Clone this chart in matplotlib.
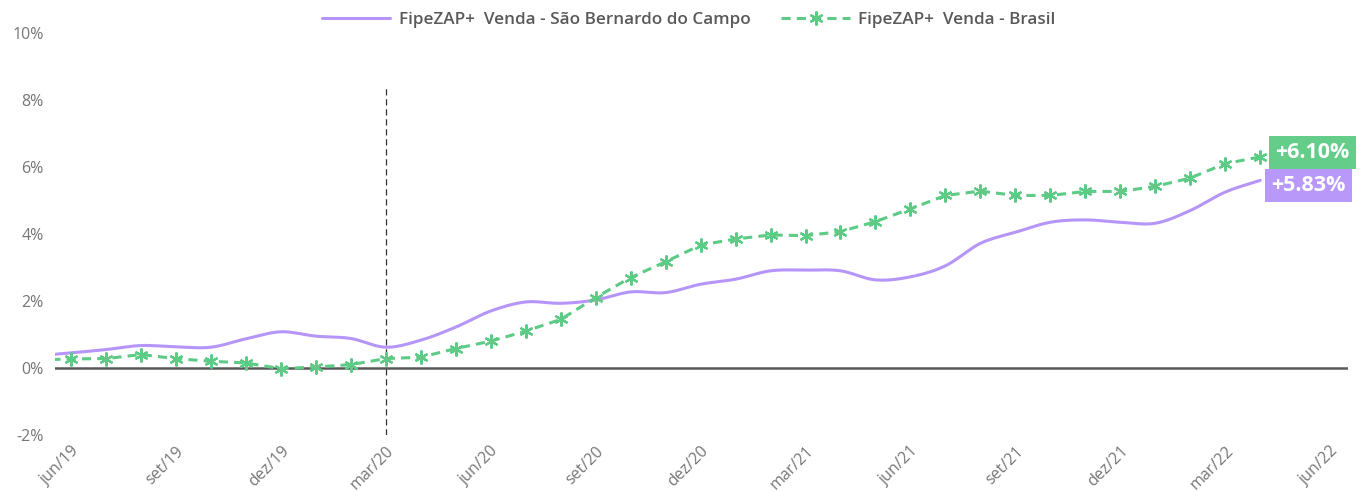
import matplotlib.pyplot as plt
import numpy as np

# meses de mai/19 a abr/22 (mai/19 fica fora do eixo, só prolonga a linha)
months = ["mai/19", "jun/19", "jul/19", "ago/19", "set/19", "out/19", "nov/19", "dez/19",
          "jan/20", "fev/20", "mar/20", "abr/20", "mai/20", "jun/20", "jul/20", "ago/20",
          "set/20", "out/20", "nov/20", "dez/20", "jan/21", "fev/21", "mar/21", "abr/21",
          "mai/21", "jun/21", "jul/21", "ago/21", "set/21", "out/21", "nov/21", "dez/21",
          "jan/22", "fev/22", "mar/22", "abr/22"]

sbc = [0.36, 0.45, 0.55, 0.67, 0.63, 0.62, 0.87, 1.08,
       0.95, 0.88, 0.62, 0.83, 1.22, 1.70, 1.97, 1.93,
       2.03, 2.27, 2.25, 2.50, 2.65, 2.90, 2.92, 2.90,
       2.63, 2.72, 3.05, 3.72, 4.05, 4.35, 4.42, 4.35,
       4.32, 4.70, 5.25, 5.60]

brasil = [0.24, 0.27, 0.28, 0.40, 0.28, 0.20, 0.15, -0.02,
          0.03, 0.10, 0.28, 0.32, 0.58, 0.80, 1.10, 1.45,
          2.10, 2.70, 3.17, 3.67, 3.85, 3.97, 3.95, 4.07,
          4.37, 4.75, 5.15, 5.28, 5.15, 5.15, 5.27, 5.27,
          5.42, 5.67, 6.10, 6.30]

tick_labels = ["jun/19", "set/19", "dez/19", "mar/20", "jun/20", "set/20", "dez/20",
               "mar/21", "jun/21", "set/21", "dez/21", "mar/22", "jun/22"]

label_sbc = "+5.83%"
label_brasil = "+6.10%"

PURPLE = "#b596f8"
GREEN = "#5dcb85"
GRAY = "#595959"
TICK_GRAY = "#767676"


def catmull_rom(x, y, n=20):
    # curva suave passando pelos pontos
    x = np.asarray(x, float)
    y = np.asarray(y, float)
    px = np.concatenate([[2 * x[0] - x[1]], x, [2 * x[-1] - x[-2]]])
    py = np.concatenate([[2 * y[0] - y[1]], y, [2 * y[-1] - y[-2]]])
    xs, ys = [], []
    t = np.linspace(0, 1, n, endpoint=False)
    for i in range(1, len(px) - 2):
        for arr, out in ((px, xs), (py, ys)):
            p0, p1, p2, p3 = arr[i - 1], arr[i], arr[i + 1], arr[i + 2]
            out.extend(0.5 * (2 * p1 + (-p0 + p2) * t + (2 * p0 - 5 * p1 + 4 * p2 - p3) * t ** 2
                              + (-p0 + 3 * p1 - 3 * p2 + p3) * t ** 3))
    xs.append(x[-1])
    ys.append(y[-1])
    return np.array(xs), np.array(ys)


plt.rcParams['font.family'] = ['Open Sans', 'DejaVu Sans']

x = np.arange(len(months)) - 1  # jun/19 = 0
fig = plt.figure(figsize=(13.64, 4.92), dpi=100)
ax = fig.add_axes([0.0403, 0.1159, 0.9477, 0.8171])

sx, sy = catmull_rom(x, sbc)
ax.plot(sx, sy, color=PURPLE, lw=2.2, solid_capstyle='round',
        label="FipeZAP+  Venda - São Bernardo do Campo")
ax.plot(x, brasil, color=GREEN, lw=2.2, ls=(0, (3, 2)), marker=(6, 2, 0), ms=10,
        mew=1.6, label="FipeZAP+  Venda - Brasil")

ax.axhline(0, color=GRAY, lw=1.8, zorder=1)
ax.plot([9, 9], [-2, 8.45], color="#333333", lw=0.9, ls=(0, (5, 3)), zorder=1)

ax.set_xlim(-0.46, 36.5)
ax.set_ylim(-2, 10)
ax.set_yticks(np.arange(-2, 11, 2))
ax.set_yticklabels([f"{v}%" for v in range(-2, 11, 2)])
ax.set_xticks(np.arange(0, 37, 3))
ax.set_xticklabels(tick_labels, rotation=45, ha='right', rotation_mode='anchor')
ax.tick_params(length=0, labelsize=11.5, colors=TICK_GRAY, pad=8)
ax.tick_params(axis='x', pad=6)
for s in ax.spines.values():
    s.set_visible(False)

ax.annotate(label_brasil, xy=(x[-1], brasil[-1]), xytext=(11, 3), textcoords='offset points',
            color='white', fontsize=15.5, fontweight='bold', va='center', ha='left',
            bbox=dict(boxstyle='square,pad=0.28', fc="#63cd89", ec='none'), annotation_clip=False)
ax.annotate(label_sbc, xy=(x[-1], sbc[-1]), xytext=(8, -4), textcoords='offset points',
            color='white', fontsize=15.5, fontweight='bold', va='center', ha='left',
            bbox=dict(boxstyle='square,pad=0.28', fc="#b899fa", ec='none'), annotation_clip=False)

leg = fig.legend(loc='upper center', bbox_to_anchor=(0.505, 1.006), ncol=2, frameon=False,
                 handlelength=4.0, handletextpad=0.5, columnspacing=1.8, fontsize=12.3)
for t in leg.get_texts():
    t.set_color(GRAY)
    t.set_fontweight('semibold')

fig.savefig("out.png", dpi=100)
